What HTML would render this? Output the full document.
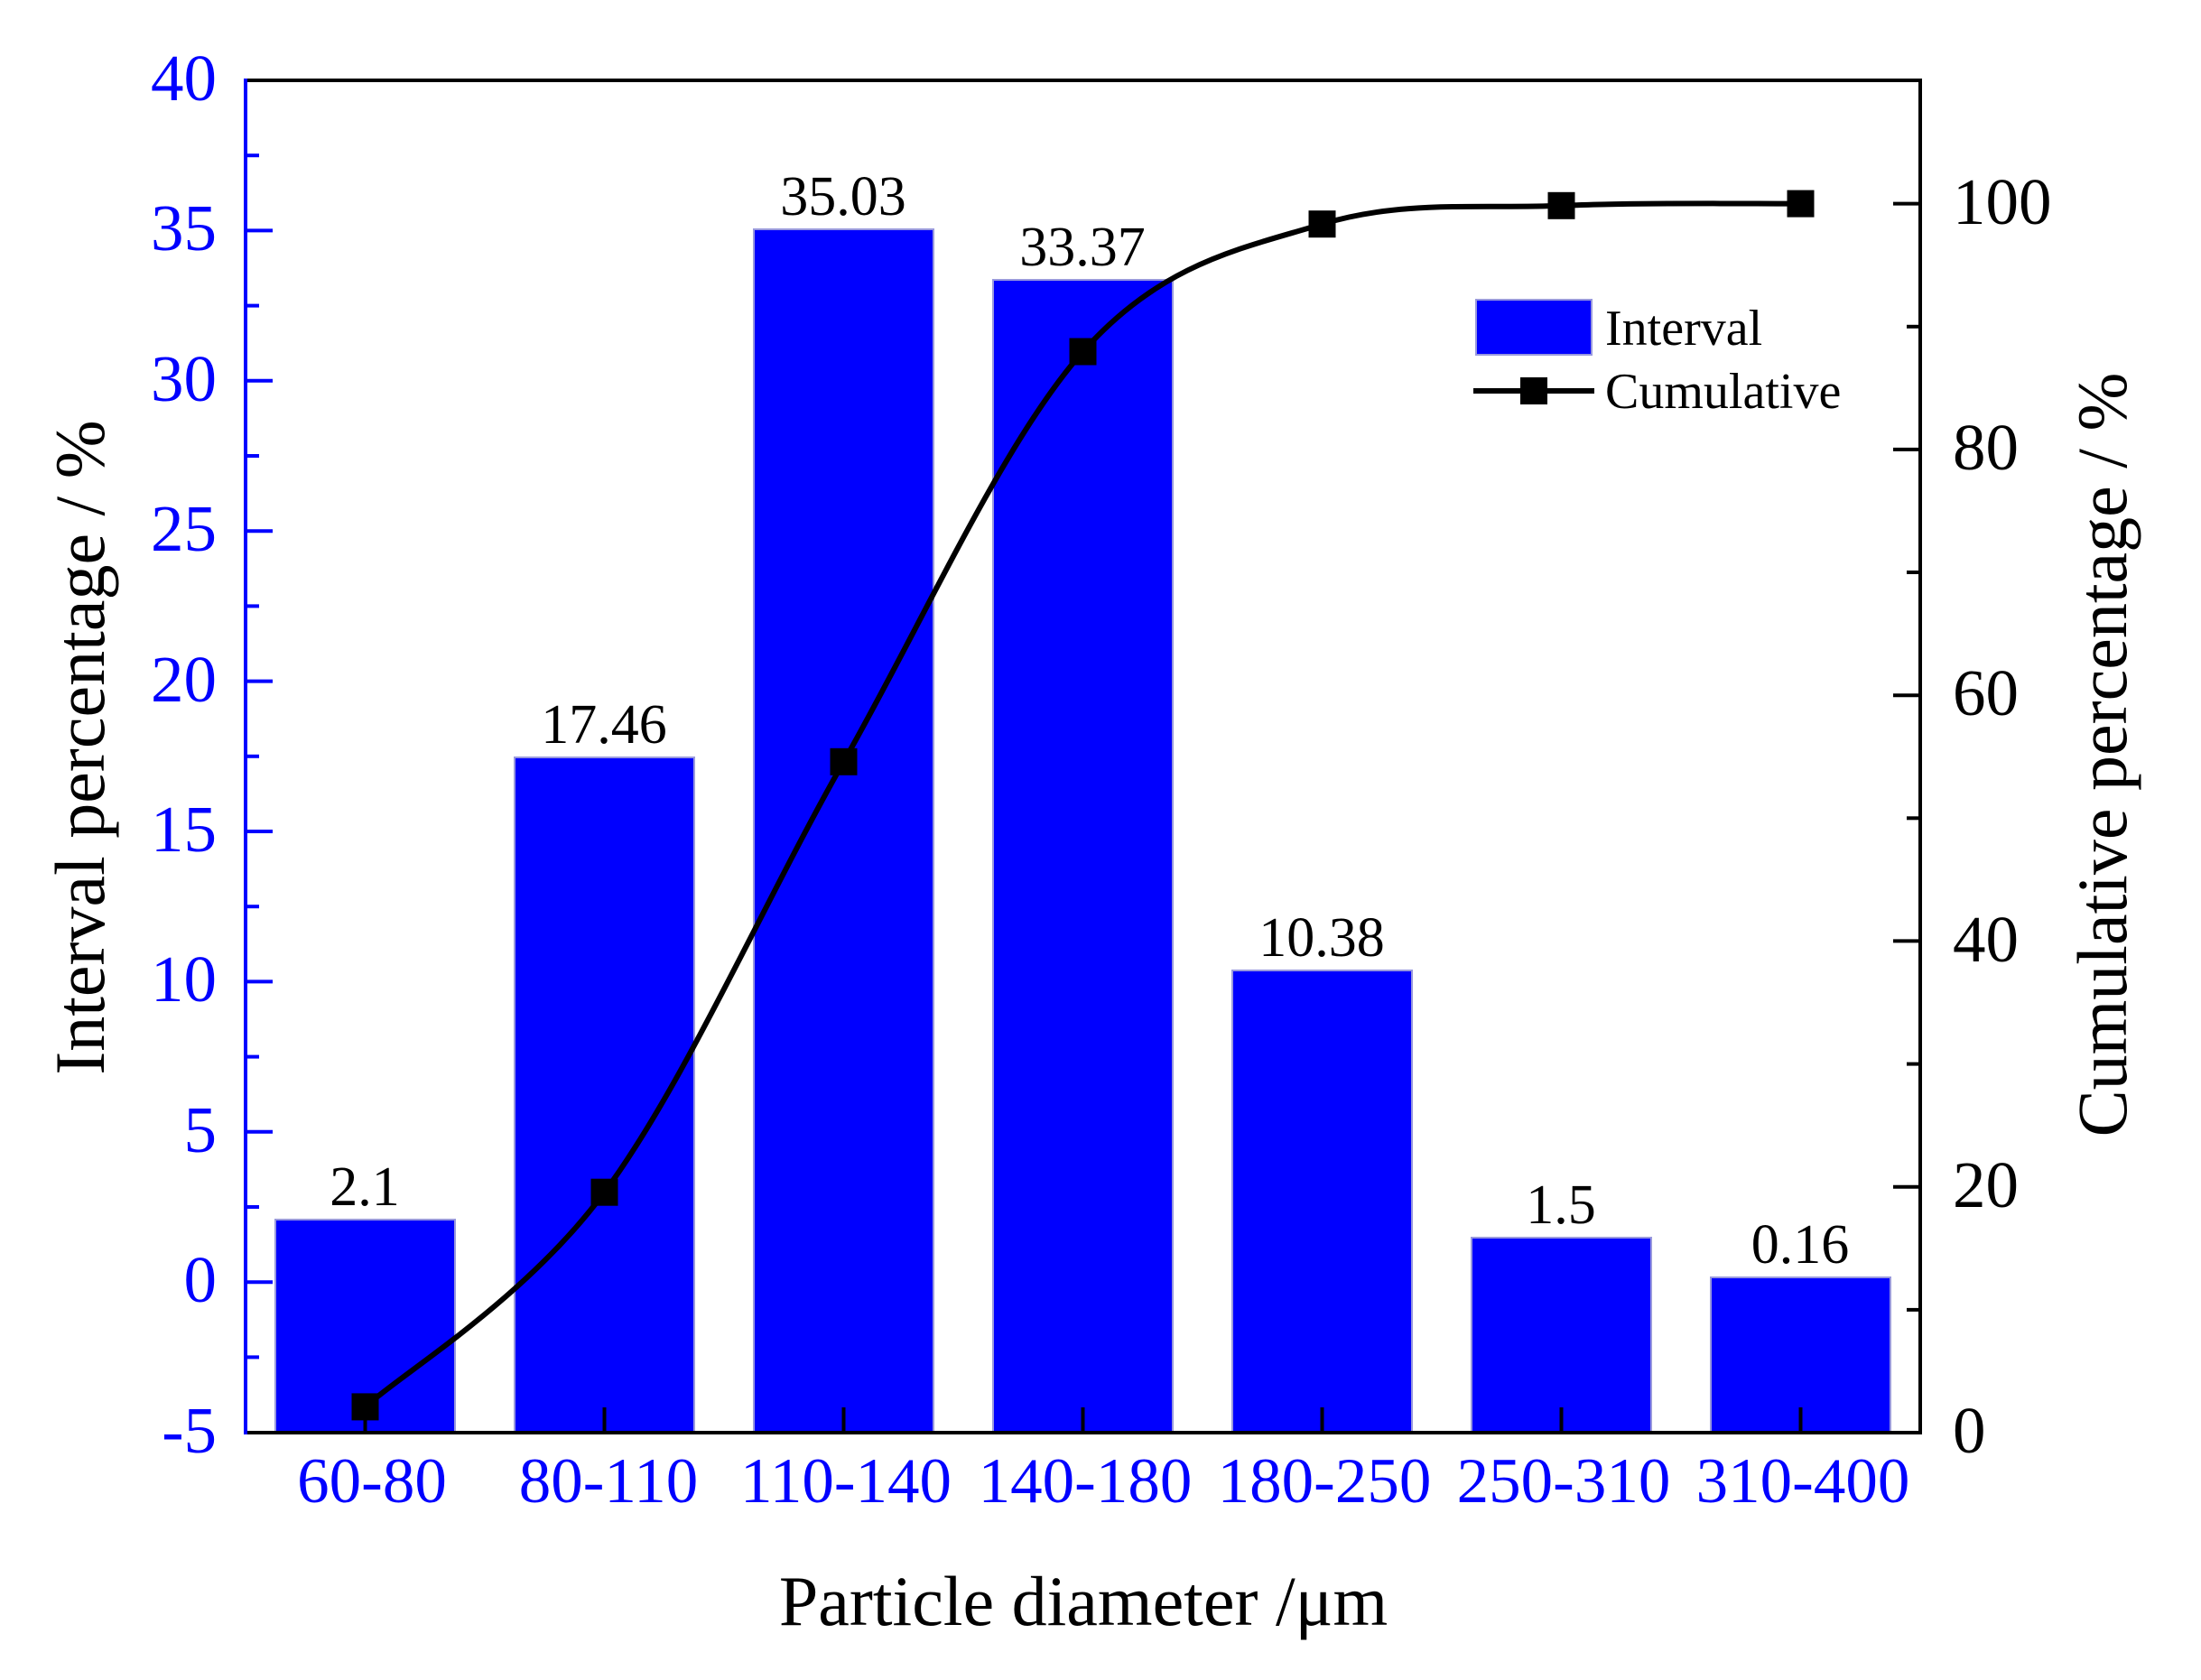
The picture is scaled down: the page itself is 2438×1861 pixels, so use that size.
<!DOCTYPE html>
<html><head><meta charset="utf-8"><style>
html,body{margin:0;padding:0;background:#fff}
svg text{font-family:"Liberation Serif",serif}
</style></head><body>
<svg width="2438" height="1856" xmlns="http://www.w3.org/2000/svg">
<rect width="2438" height="1856" fill="#fff"/>
<g fill="#0000ff" stroke="#9999dd" stroke-width="2">
<rect x="305" y="1351" width="199" height="236"/>
<rect x="570" y="839" width="199" height="748"/>
<rect x="835" y="254" width="199" height="1333"/>
<rect x="1100" y="310" width="199" height="1277"/>
<rect x="1365" y="1075" width="199" height="512"/>
<rect x="1630" y="1371" width="199" height="216"/>
<rect x="1895" y="1415" width="199" height="172"/>
</g>
<g font-size="62" text-anchor="middle" fill="#000">
<text x="404" y="1335">2.1</text>
<text x="669" y="823">17.46</text>
<text x="934" y="238">35.03</text>
<text x="1199" y="294">33.37</text>
<text x="1464" y="1059">10.38</text>
<text x="1729" y="1355">1.5</text>
<text x="1994" y="1399">0.16</text>
</g>
<line x1="270" y1="89" x2="2129" y2="89" stroke="#000" stroke-width="4"/>
<line x1="270" y1="1587" x2="2129" y2="1587" stroke="#000" stroke-width="4"/>
<line x1="2127" y1="87" x2="2127" y2="1589" stroke="#000" stroke-width="4"/>
<line x1="272" y1="87" x2="272" y2="1589" stroke="#0000ff" stroke-width="4"/>
<g stroke="#0000ff" stroke-width="4">
<line x1="272" x2="302" y1="255.4" y2="255.4"/><line x1="272" x2="302" y1="421.8" y2="421.8"/><line x1="272" x2="302" y1="588.2" y2="588.2"/><line x1="272" x2="302" y1="754.6" y2="754.6"/><line x1="272" x2="302" y1="921" y2="921"/><line x1="272" x2="302" y1="1087.4" y2="1087.4"/><line x1="272" x2="302" y1="1253.8" y2="1253.8"/><line x1="272" x2="302" y1="1420.2" y2="1420.2"/>
<line x1="272" x2="287" y1="172.2" y2="172.2"/><line x1="272" x2="287" y1="338.6" y2="338.6"/><line x1="272" x2="287" y1="505" y2="505"/><line x1="272" x2="287" y1="671.4" y2="671.4"/><line x1="272" x2="287" y1="837.8" y2="837.8"/><line x1="272" x2="287" y1="1004.2" y2="1004.2"/><line x1="272" x2="287" y1="1170.6" y2="1170.6"/><line x1="272" x2="287" y1="1337" y2="1337"/><line x1="272" x2="287" y1="1503.4" y2="1503.4"/>
</g>
<g font-size="73" fill="#0000ff" text-anchor="end">
<text x="240" y="111">40</text><text x="240" y="277">35</text><text x="240" y="444">30</text><text x="240" y="610">25</text><text x="240" y="777">20</text><text x="240" y="943">15</text><text x="240" y="1109">10</text><text x="240" y="1276">5</text><text x="240" y="1442">0</text><text x="240" y="1609">-5</text>
</g>
<g stroke="#000" stroke-width="4">
<line x1="2127" x2="2097" y1="225.6" y2="225.6"/><line x1="2127" x2="2097" y1="497.9" y2="497.9"/><line x1="2127" x2="2097" y1="770.2" y2="770.2"/><line x1="2127" x2="2097" y1="1042.4" y2="1042.4"/><line x1="2127" x2="2097" y1="1314.7" y2="1314.7"/>
<line x1="2127" x2="2112" y1="361.8" y2="361.8"/><line x1="2127" x2="2112" y1="634" y2="634"/><line x1="2127" x2="2112" y1="906.3" y2="906.3"/><line x1="2127" x2="2112" y1="1178.6" y2="1178.6"/><line x1="2127" x2="2112" y1="1450.9" y2="1450.9"/>
</g>
<g font-size="73" fill="#000">
<text x="2163" y="248">100</text><text x="2163" y="520">80</text><text x="2163" y="792">60</text><text x="2163" y="1065">40</text><text x="2163" y="1337">20</text><text x="2163" y="1609">0</text>
</g>
<g stroke="#000" stroke-width="4">
<line x1="404.5" x2="404.5" y1="1587" y2="1559"/><line x1="669.5" x2="669.5" y1="1587" y2="1559"/><line x1="934.5" x2="934.5" y1="1587" y2="1559"/><line x1="1199.5" x2="1199.5" y1="1587" y2="1559"/><line x1="1464.5" x2="1464.5" y1="1587" y2="1559"/><line x1="1729.5" x2="1729.5" y1="1587" y2="1559"/><line x1="1994.5" x2="1994.5" y1="1587" y2="1559"/>
</g>
<g font-size="71" fill="#0000ff" text-anchor="middle">
<text x="412" y="1664">60-80</text><text x="674" y="1664">80-110</text><text x="937" y="1664">110-140</text><text x="1202" y="1664">140-180</text><text x="1467" y="1664">180-250</text><text x="1732" y="1664">250-310</text><text x="1997" y="1664">310-400</text>
</g>
<path d="M404.5,1558.4 C448.7,1518.8 581.2,1439.8 669.5,1320.7 C757.8,1201.6 846.2,999 934.5,843.8 C1022.8,688.6 1111.2,488.8 1199.5,389.5 C1287.8,290.2 1376.2,275.2 1464.5,248.2 C1552.8,221.2 1641.2,231.6 1729.5,227.8 C1817.8,224 1950.3,225.9 1994.5,225.6" fill="none" stroke="#000" stroke-width="6"/>
<g fill="#000">
<rect x="389.5" y="1543.4" width="30" height="30"/><rect x="654.5" y="1305.7" width="30" height="30"/><rect x="919.5" y="828.8" width="30" height="30"/><rect x="1184.5" y="374.5" width="30" height="30"/><rect x="1449.5" y="233.2" width="30" height="30"/><rect x="1714.5" y="212.8" width="30" height="30"/><rect x="1979.5" y="210.6" width="30" height="30"/>
</g>
<rect x="1635" y="332" width="128" height="61" fill="#0000ff" stroke="#9999dd" stroke-width="2"/>
<text x="1778" y="382" font-size="56">Interval</text>
<line x1="1632" y1="433" x2="1766" y2="433" stroke="#000" stroke-width="6"/>
<rect x="1684" y="418" width="30" height="30" fill="#000"/>
<text x="1778" y="452" font-size="56">Cumulative</text>
<text x="1200" y="1800" font-size="78" text-anchor="middle">Particle diameter /μm</text>
<text transform="translate(115,828) rotate(-90)" font-size="78" text-anchor="middle">Interval percentage / %</text>
<text transform="translate(2355,836) rotate(-90)" font-size="78" text-anchor="middle">Cumulative percentage / %</text>
</svg>
</body></html>
